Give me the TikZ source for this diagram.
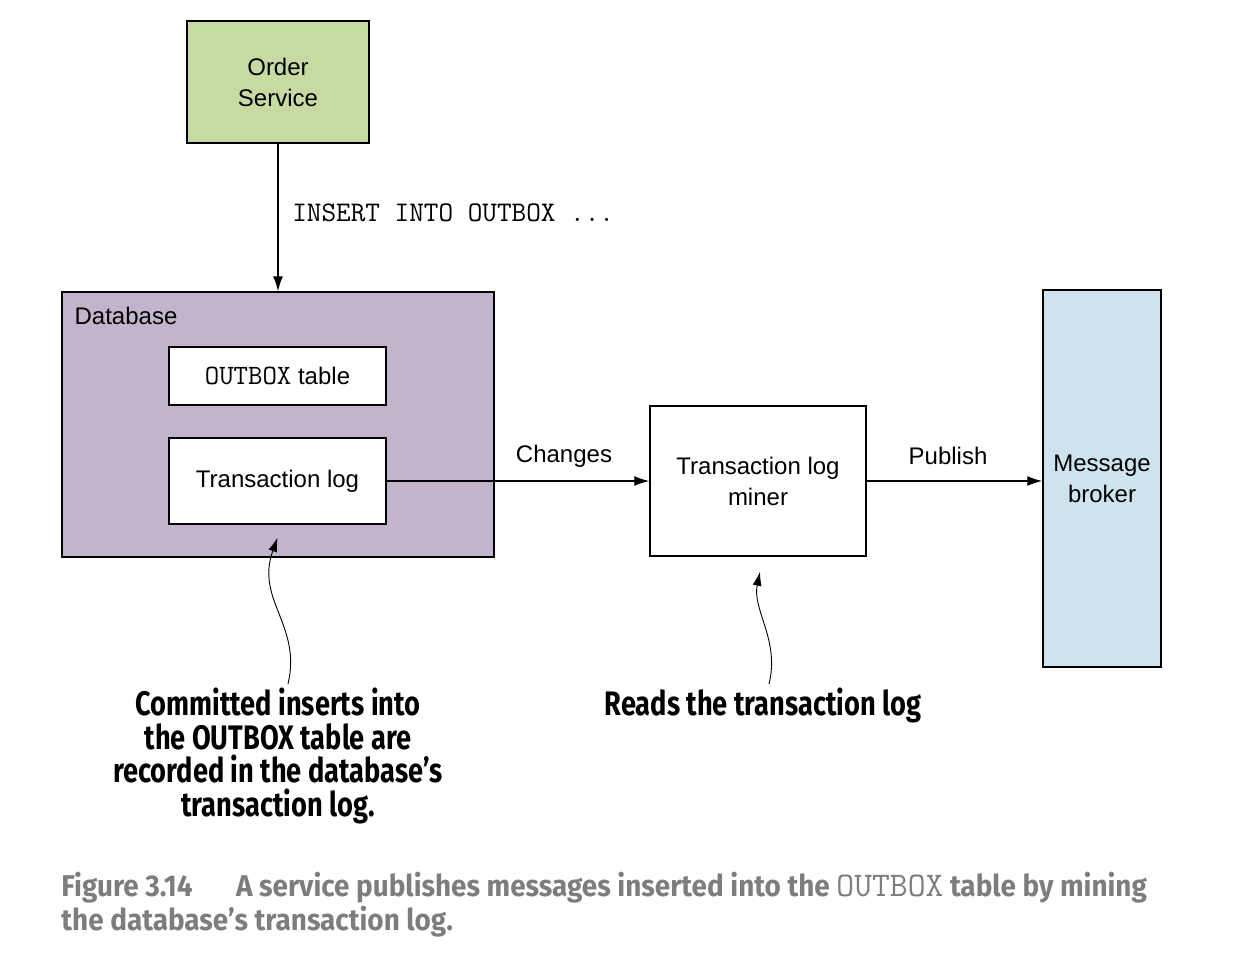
\documentclass[tikz,border=0pt]{standalone}
\usepackage{fontspec}
\setmainfont{Liberation Sans}
\newfontfamily\notefont{Fira Sans}[FakeStretch=0.8]
\newfontfamily\capfont{Fira Sans}[FakeStretch=0.93]
\usepackage{tikz}
\usetikzlibrary{arrows.meta,positioning,calc}
\definecolor{svcgreen}{RGB}{198,219,164}
\definecolor{dblilac}{RGB}{195,180,205}
\definecolor{brokerblue}{RGB}{205,228,239}
\definecolor{capgray}{RGB}{125,125,125}
\tikzstyle{box} = [rectangle, draw, line width=0.75pt, inner sep=0pt,
align=center, font=\fontsize{12}{15.5}\selectfont]
\tikzstyle{line} = [draw, line width=0.65pt, -{Latex[length=7.5pt,width=5pt]}]
\tikzstyle{pointer} = [draw, line width=0.45pt, -{Latex[length=7pt,width=4.5pt]}]
\tikzstyle{lbl} = [font=\fontsize{12}{15.5}\selectfont, inner sep=0pt]
\tikzstyle{note} = [font=\notefont\bfseries\fontsize{17}{16.9}\selectfont, align=center, inner sep=0pt]

\begin{document}
\begin{tikzpicture}[x=0.5pt, y=-0.5pt]
	\useasboundingbox (0,0) rectangle (1236,968);
	
	% Boxes
	\node [box, fill=svcgreen, minimum width=91pt, minimum height=61pt] (order) at (278,82) {Order\\Service};
	\node [box, fill=dblilac, minimum width=216pt, minimum height=132.5pt] (db) at (278,424.5) {};
	\node [box, fill=white, minimum width=108.5pt, minimum height=29pt] (outbox) at (277.5,376) {{\ttfamily\fontsize{14}{15.5}\selectfont OUTBOX} table};
	\node [box, fill=white, minimum width=108.5pt, minimum height=43pt] (tlog) at (277.5,481) {Transaction log};
	\node [box, fill=white, minimum width=108pt, minimum height=75pt] (miner) at (758,481) {Transaction log\\miner};
	\node [box, fill=brokerblue, minimum width=59pt, minimum height=188.5pt] (broker) at (1102,478.5) {Message\\broker};
	\node [lbl, anchor=base west] (dblabel) at ([xshift=6.5pt,yshift=-16.5pt]db.north west) {Database};
	
	% Edges
	\path [line] (order) -- node [right=3.5pt, yshift=2.5pt, font=\ttfamily\fontsize{14.2}{15}\selectfont] (insert) {INSERT INTO OUTBOX ...} (db);
	\path [line] (tlog.east) -- (tlog.east -| miner.west);
	\path [line] (miner.east) -- (miner.east -| broker.west);
	\node [lbl] (changes) at (564,456) {Changes};
	\node [lbl] (publish) at (948,456) {Publish};
	
	% Notes
	\node [note] (note1) at (278,756) {Committed inserts into\\the OUTBOX table are\\recorded in the database’s\\transaction log.};
	\node [note] (note2) at (763,705) {Reads the transaction log};
	\coordinate (tip1) at ([yshift=-6.5pt]tlog.south);
	\coordinate (tip2) at ([xshift=1pt,yshift=-7.5pt]miner.south);
	\draw [pointer] (288,684) .. controls (302,625) and (255,600) .. (tip1);
	\draw [pointer] (769,684) .. controls (780,640) and (752,610) .. (tip2);
	
	% Caption
	\node [anchor=north west, align=left, inner sep=0pt, text=capgray,
	font=\capfont\bfseries\fontsize{15}{17}\selectfont] (caption) at (61,872)
	{Figure 3.14\hspace{1.45em}A service publishes messages inserted into the {\ttfamily\mdseries\fontsize{17.3}{17}\selectfont OUTBOX} table by mining\\the database’s transaction log.};
	
\end{tikzpicture}
\end{document}
